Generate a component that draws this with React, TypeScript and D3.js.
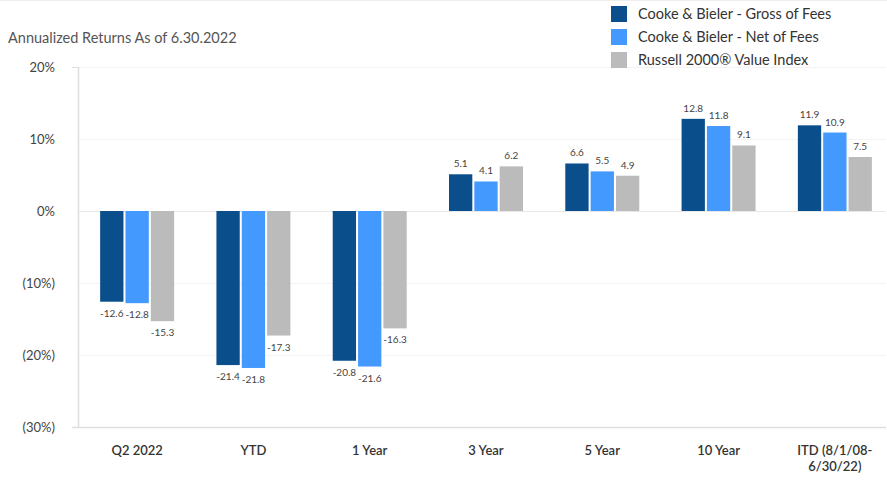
import * as d3 from 'd3';
import React, { useEffect, useRef } from 'react';

const categories = ['Q2 2022', 'YTD', '1 Year', '3 Year', '5 Year', '10 Year', 'ITD (8/1/08-|6/30/22)'];
const seriesNames = ['Cooke & Bieler - Gross of Fees', 'Cooke & Bieler - Net of Fees', 'Russell 2000® Value Index'];
const gross = [-12.6, -21.4, -20.8, 5.1, 6.6, 12.8, 11.9];
const net = [-12.8, -21.8, -21.6, 4.1, 5.5, 11.8, 10.9];
const index = [-15.3, -17.3, -16.3, 6.2, 4.9, 9.1, 7.5];
const yTicks = [20, 10, 0, -10, -20, -30];
const colors = ['#0a4f8c', '#4399fd', '#bbbbbb'];

const W = 887;
const H = 480;
const font = 'Lato, "Noto Sans", sans-serif';

export default function App() {
    const ref = useRef<SVGSVGElement>(null);

    useEffect(() => {
        const svg = d3.select(ref.current);
        svg.selectAll('*').remove();

        const x = d3.scaleBand().domain(categories).range([79, 893]);
        const inner = d3.scaleBand().domain(['0', '1', '2']).range([-37, 37]).paddingInner(0.08);
        const y = d3.scaleLinear().domain([-30, 20]).range([427, 67]);

        svg.append('line')
            .attr('x1', 0).attr('x2', W).attr('y1', 0.5).attr('y2', 0.5)
            .attr('stroke', '#eeeeee');

        svg.append('text')
            .attr('x', 8).attr('y', 43)
            .attr('font-size', 14.5).attr('fill', '#555')
            .text('Annualized Returns As of 6.30.2022');

        // gridlines
        svg.append('g')
            .selectAll('line')
            .data(yTicks.filter((t) => t !== -30))
            .join('line')
            .attr('x1', 79).attr('x2', 886)
            .attr('y1', (d) => y(d) + 0.5).attr('y2', (d) => y(d) + 0.5)
            .attr('stroke', (d) => (d === 0 ? '#e8e8e8' : '#f3f3f3'));

        // y labels
        svg.append('g')
            .selectAll('text')
            .data(yTicks)
            .join('text')
            .attr('x', 55).attr('y', (d) => y(d) + 5)
            .attr('text-anchor', 'end')
            .attr('font-size', 13).attr('fill', '#444')
            .text((d) => (d < 0 ? `(${-d}%)` : `${d}%`));

        // axes lines
        svg.append('line')
            .attr('x1', 78.5).attr('x2', 78.5).attr('y1', y(20)).attr('y2', y(-30))
            .attr('stroke', '#dddde3').attr('stroke-width', 1.5);
        svg.append('line')
            .attr('x1', 72).attr('x2', 79).attr('y1', y(20) + 0.5).attr('y2', y(20) + 0.5)
            .attr('stroke', '#dddde3');
        svg.append('line')
            .attr('x1', 72).attr('x2', 886).attr('y1', y(-30) + 0.5).attr('y2', y(-30) + 0.5)
            .attr('stroke', '#dddde3').attr('stroke-width', 1.5);

        const series = [gross, net, index];
        const chart = svg.append('g');
        series.forEach((vals, si) => {
            const bw = inner.bandwidth();
            const g = chart.append('g');
            g.selectAll('rect')
                .data(vals)
                .join('rect')
                .attr('x', (d, i) => x(categories[i])! + x.bandwidth() / 2 + inner(String(si))!)
                .attr('y', (d) => y(Math.max(0, d)))
                .attr('width', bw)
                .attr('height', (d) => Math.abs(y(d) - y(0)))
                .attr('fill', colors[si]);
            g.selectAll('text')
                .data(vals)
                .join('text')
                .attr('x', (d, i) => x(categories[i])! + x.bandwidth() / 2 + inner(String(si))! + bw / 2)
                .attr('y', (d) => (d >= 0 ? y(d) - 7 : y(d) + 15))
                .attr('text-anchor', 'middle')
                .attr('font-size', 10).attr('fill', '#444')
                .text((d) => d.toFixed(1));
        });

        // x labels
        const xl = svg.append('g')
            .selectAll('text')
            .data(categories)
            .join('text')
            .attr('x', (d) => x(d)! + x.bandwidth() / 2)
            .attr('y', 455)
            .attr('text-anchor', 'middle')
            .attr('font-size', 13).attr('font-weight', 600).attr('fill', '#333');
        xl.selectAll('tspan')
            .data((d) => d.split('|'))
            .join('tspan')
            .attr('x', function () {
                return (this.parentNode as SVGTextElement).getAttribute('x');
            })
            .attr('dy', (d, i) => (i === 0 ? 0 : 16))
            .text((d) => d);

        // legend
        const lg = svg.append('g')
            .selectAll('g')
            .data(seriesNames)
            .join('g')
            .attr('transform', (d, i) => `translate(611, ${6 + i * 23})`);
        lg.append('rect').attr('width', 16).attr('height', 16).attr('fill', (d, i) => colors[i]);
        lg.append('text')
            .attr('x', 27).attr('y', 13)
            .attr('font-size', 14.5).attr('fill', '#333')
            .text((d) => d);
    }, []);

    return (
        <svg ref={ref} width={W} height={H} style={{ position: 'absolute', left: 0, top: 0, fontFamily: font, background: '#fff' }} />
    );
}
